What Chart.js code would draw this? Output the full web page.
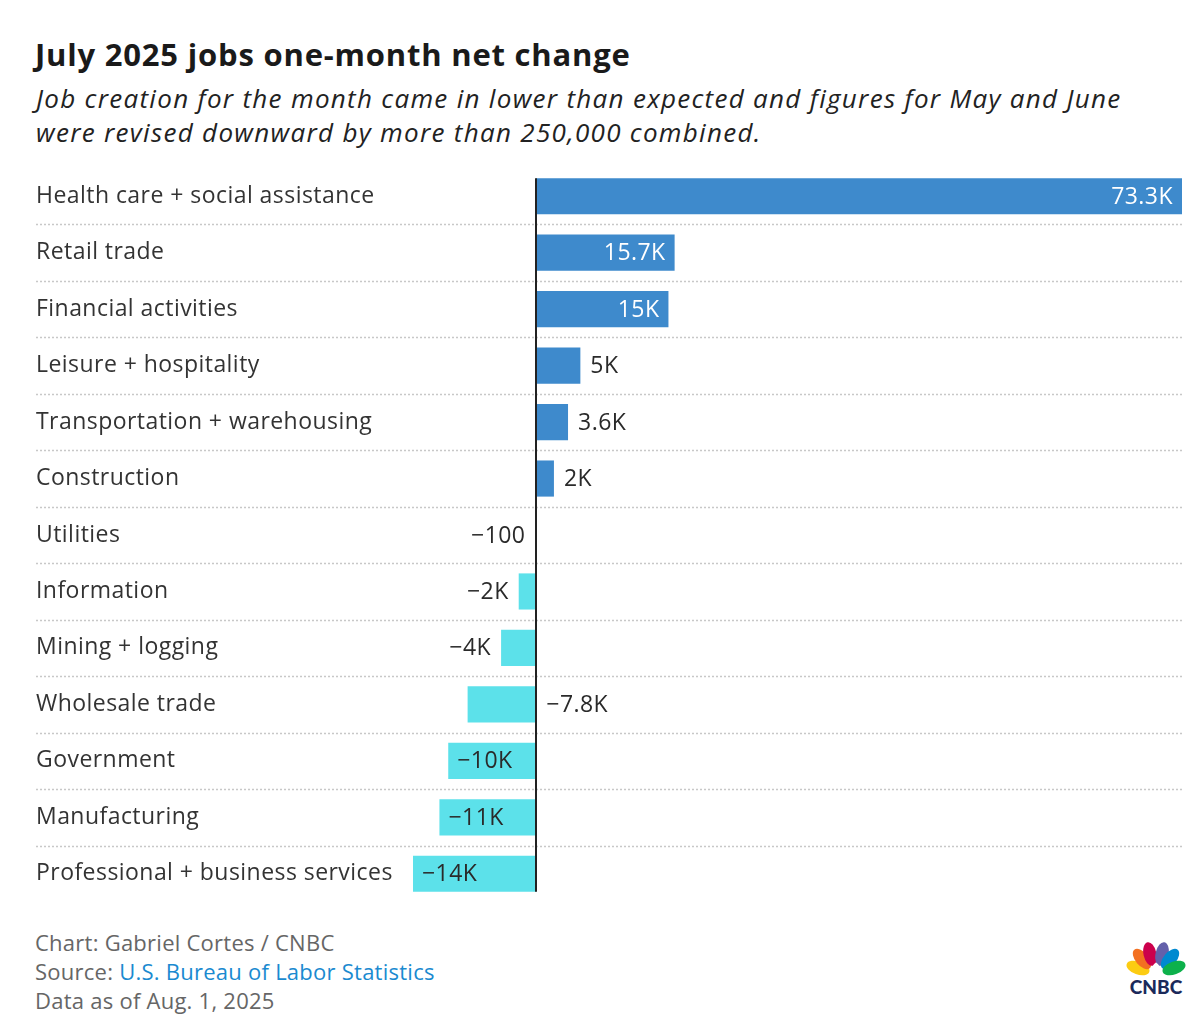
<!DOCTYPE html>
<html>
<head>
<meta charset="utf-8">
<script src="https://cdn.jsdelivr.net/npm/chart.js@4.4.1/dist/chart.umd.min.js"></script>
<style>
  body { margin: 0; background: #fff; font-family: "Open Sans", Lato, sans-serif; }
  #title { position: absolute; left: 35px; top: 34px; font-size: 31px; font-weight: 700; color: #1a1a1a; line-height: 40px; letter-spacing: 0.8px; }
  #subtitle { position: absolute; left: 36px; top: 81px; font-size: 26px; font-style: italic; color: #222; line-height: 34px; width: 1165px; letter-spacing: 1.3px; white-space: nowrap; }
  #wrap { position: absolute; left: 0; top: 150px; width: 1203px; height: 770px; }
  #footer { position: absolute; left: 35px; top: 928px; font-size: 22px; color: #666; line-height: 29px; letter-spacing: 0.25px; }
  #footer span { color: #1a8ad0; }
  #logo { position: absolute; left: 1124px; top: 942px; }
</style>
</head>
<body>
<div id="title">July 2025 jobs one-month net change</div>
<div id="subtitle">Job creation for the month came in lower than expected and figures for May and June<br>were revised downward by more than 250,000 combined.</div>
<div id="wrap"><canvas id="jobsChart"></canvas></div>
<div id="footer">Chart: Gabriel Cortes / CNBC<br>Source: <span>U.S. Bureau of Labor Statistics</span><br>Data as of Aug. 1, 2025</div>
<svg id="logo" width="64" height="54" viewBox="0 0 64 54">
  <g transform="translate(32,32)">
    <ellipse cx="-18" cy="-6" rx="6.5" ry="12" transform="rotate(-70 -18 -6)" fill="#fccc12"/>
    <ellipse cx="-14" cy="-15" rx="6.5" ry="12" transform="rotate(-40 -14 -15)" fill="#f37021"/>
    <ellipse cx="-6" cy="-20" rx="6.5" ry="12" transform="rotate(-12 -6 -20)" fill="#cc004c"/>
    <ellipse cx="6" cy="-20" rx="6.5" ry="12" transform="rotate(12 6 -20)" fill="#6460aa"/>
    <ellipse cx="14" cy="-15" rx="6.5" ry="12" transform="rotate(40 14 -15)" fill="#0089d0"/>
    <ellipse cx="18" cy="-6" rx="6.5" ry="12" transform="rotate(70 18 -6)" fill="#0db14b"/>
    <ellipse cx="0" cy="-5" rx="3.5" ry="6" fill="#fff"/>
  </g>
  <text x="32" y="52" text-anchor="middle" font-family="Lato, sans-serif" font-weight="900" font-size="19" fill="#1b2a5a">CNBC</text>
</svg>
<script>
  // values are in thousands of jobs
  const categories = ['Health care + social assistance', 'Retail trade', 'Financial activities',
    'Leisure + hospitality', 'Transportation + warehousing', 'Construction', 'Utilities',
    'Information', 'Mining + logging', 'Wholesale trade', 'Government', 'Manufacturing',
    'Professional + business services'];
  const netChange = [73.3, 15.7, 15, 5, 3.6, 2, -0.1, -2, -4, -7.8, -10, -11, -14];
  const valueLabels = ['73.3K', '15.7K', '15K', '5K', '3.6K', '2K', '\u2212100', '\u22122K',
    '\u22124K', '\u22127.8K', '\u221210K', '\u221211K', '\u221214K'];

  const posColor = '#3e8acc';
  const negColor = '#5ce1ea';
  const FONT = '"Open Sans", Lato, sans-serif';

  // dotted separators between rows + zero line + value labels
  const rowLines = {
    id: 'rowLines',
    beforeDraw(chart) {
      chart.ctx.letterSpacing = '0.45px';
    },
    beforeDatasetsDraw(chart) {
      const ctx = chart.ctx, y = chart.scales.y;
      ctx.save();
      ctx.strokeStyle = '#c8c8c8';
      ctx.lineWidth = 1.5;
      ctx.setLineDash([2, 2]);
      for (let i = 0; i < categories.length - 1; i++) {
        const py = Math.round((y.getPixelForValue(i) + y.getPixelForValue(i + 1)) / 2) + 0.5;
        ctx.beginPath();
        ctx.moveTo(36, py);
        ctx.lineTo(chart.chartArea.right, py);
        ctx.stroke();
      }
      ctx.restore();
    },
    afterDatasetsDraw(chart) {
      const ctx = chart.ctx, x = chart.scales.x;
      const bars = chart.getDatasetMeta(0).data;
      const first = bars[0], last = bars[bars.length - 1];
      const x0 = Math.round(x.getPixelForValue(0));
      ctx.save();
      ctx.strokeStyle = '#222';
      ctx.lineWidth = 2;
      ctx.beginPath();
      ctx.moveTo(x0, first.y - first.height / 2);
      ctx.lineTo(x0, last.y + last.height / 2);
      ctx.stroke();

      ctx.font = '23px ' + FONT;
      ctx.textBaseline = 'middle';
      bars.forEach((bar, i) => {
        const txt = valueLabels[i];
        const tw = ctx.measureText(txt).width;
        const w = Math.abs(bar.x - bar.base);
        const v = netChange[i];
        let px, align, color = '#2a2a2a';
        if (v >= 0) {
          if (w > tw + 20) { px = bar.x - 9; align = 'right'; color = '#fff'; }
          else { px = bar.x + 10; align = 'left'; }
        } else if (w > tw + 16) {
          px = bar.x + 9; align = 'left';
        } else if (w > 50) {
          px = bar.base + 10; align = 'left';
        } else {
          px = bar.x - 10; align = 'right';
        }
        ctx.fillStyle = color;
        ctx.textAlign = align;
        ctx.fillText(txt, px, bar.y + 1);
      });
      ctx.restore();
    }
  };

  const jobsChart = new Chart(document.getElementById('jobsChart'), {
    type: 'bar',
    data: {
      labels: categories,
      datasets: [{
        data: netChange,
        backgroundColor: netChange.map(v => v >= 0 ? posColor : negColor),
        borderWidth: 0,
        barPercentage: 0.64,
        categoryPercentage: 1
      }]
    },
    options: {
      indexAxis: 'y',
      responsive: true,
      maintainAspectRatio: false,
      animation: false,
      layout: { padding: { left: 36, right: 21, top: 18, bottom: 18 } },
      plugins: { legend: { display: false }, tooltip: { enabled: false } },
      scales: {
        x: { display: false, min: -14, max: 73.3 },
        y: {
          grid: { display: false },
          border: { display: false },
          afterFit(scale) { scale.width = 377; },
          ticks: {
            crossAlign: 'far',
            padding: 0,
            color: '#333',
            font: { family: FONT, size: 23 }
          }
        }
      }
    },
    plugins: [rowLines]
  });
</script>
</body>
</html>
